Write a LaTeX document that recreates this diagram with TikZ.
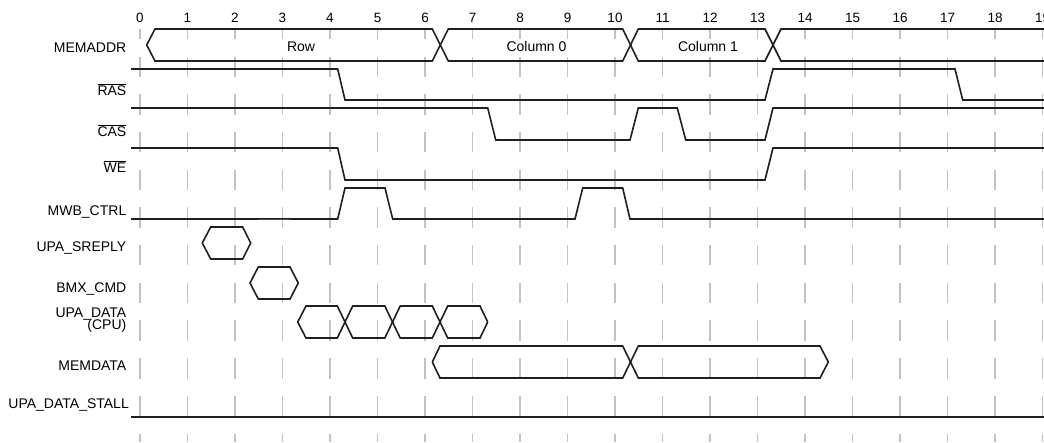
\documentclass[tikz,border=0pt]{standalone}
\usepackage{fontspec}
\setmainfont{Liberation Sans}
\newcommand\ovl[1]{$\overline{\mbox{#1}}$}
\begin{document}
\begin{tikzpicture}[x=1pt,y=-1pt,
  sig/.style={line width=1.6pt, draw=black!88, line join=miter},
  gridln/.style={line width=1.3pt, draw=black!24, dash pattern=on 20.4pt off 17.3pt, dash phase=10.2pt},
  lab/.style={anchor=base east, font=\fontsize{14}{16}\selectfont, inner sep=0pt},
  ticklab/.style={anchor=base, font=\fontsize{13.5}{16}\selectfont, inner sep=0pt},
  buslab/.style={anchor=base, font=\fontsize{14}{16}\selectfont, inner sep=0pt}]
\useasboundingbox (0,0) rectangle (1044,442);
% grid and tick numbers
\foreach \t in {0,...,19} {
  \draw[gridln] ({140+47.5*\t},29) -- ({140+47.5*\t},442);
  \node[ticklab] (tick\t) at ({140+47.5*\t},22.5) {\t};
}
% signal labels
\node[lab] (lMEMADDR) at (126.5,52.3) {MEMADDR};
\node[lab] (lRAS) at (126.5,95) {\ovl{RAS}};
\node[lab] (lCAS) at (126.5,136) {\ovl{CAS}};
\node[lab] (lWE) at (126.5,172) {\ovl{WE}};
\node[lab] (lMWB) at (126.5,215) {MWB\_CTRL};
\node[lab] (lSREPLY) at (126.5,251) {UPA\_SREPLY};
\node[lab] (lBMX) at (126.5,292) {BMX\_CMD};
\node[lab] (lUPA1) at (126.5,317) {UPA\_DATA};
\node[lab] (lUPA2) at (126.5,329.5) {(CPU)};
\node[lab] (lMEMDATA) at (126.5,370) {MEMDATA};
\node[lab] (lSTALL) at (129,408) {UPA\_DATA\_STALL};
% MEMADDR bus
\draw[sig] (146.7,45) -- (155,29) -- (432.3,29) -- (448.3,61) -- (622.7,61) -- (638.3,29) -- (765,29) -- (781,61) -- (1044,61);
\draw[sig] (146.7,45) -- (155,61) -- (432.3,61) -- (448.3,29) -- (622.7,29) -- (638.3,61) -- (765,61) -- (781,29) -- (1044,29);
\node[buslab] (bRow) at (301,51.5) {Row};
\node[buslab] (bCol0) at (536.5,51.5) {Column 0};
\node[buslab] (bCol1) at (708,51.5) {Column 1};
% RAS
\draw[sig] (131,69) -- (337.7,69) -- (345,100) -- (765,100) -- (773,69) -- (955,69) -- (962.7,100) -- (1044,100);
% CAS
\draw[sig] (131,108) -- (487.7,108) -- (495.7,140) -- (630,140) -- (638.3,108) -- (677.3,108) -- (685.7,140) -- (765,140) -- (773,108) -- (1044,108);
% WE
\draw[sig] (131,148) -- (337.7,148) -- (345,180) -- (765,180) -- (773,148) -- (1044,148);
% MWB_CTRL
\draw[sig] (131,219) -- (337.7,219) -- (345,188) -- (385,188) -- (392.7,219) -- (575,219) -- (582.7,188) -- (622.7,188) -- (630,219) -- (1044,219);
\draw[line width=1.2pt, draw=black!70] (257.7,219.6) -- (290,219.6);
% UPA_SREPLY
\draw[sig] (202.3,243) -- (210.7,227) -- (242.7,227) -- (250.7,243) -- (242.7,259) -- (210.7,259) -- cycle;
% BMX_CMD
\draw[sig] (250,283) -- (258.3,267) -- (290,267) -- (298.3,283) -- (290,299) -- (258.3,299) -- cycle;
% UPA_DATA (CPU)
\draw[sig] (297.7,322) -- (306,306) -- (337.3,306) -- (352.7,338) -- (384.8,338) -- (400.2,306) -- (432.3,306) -- (447.7,338) -- (480,338) -- (487.7,322);
\draw[sig] (297.7,322) -- (306,338) -- (337.3,338) -- (352.7,306) -- (384.8,306) -- (400.2,338) -- (432.3,338) -- (447.7,306) -- (480,306) -- (487.7,322);
% MEMDATA
\draw[sig] (432.3,362) -- (440,346) -- (622.7,346) -- (638.3,378) -- (820,378) -- (828.3,362);
\draw[sig] (432.3,362) -- (440,378) -- (622.7,378) -- (638.3,346) -- (820,346) -- (828.3,362);
% UPA_DATA_STALL
\draw[sig] (131,417) -- (1044,417);
\end{tikzpicture}
\end{document}
